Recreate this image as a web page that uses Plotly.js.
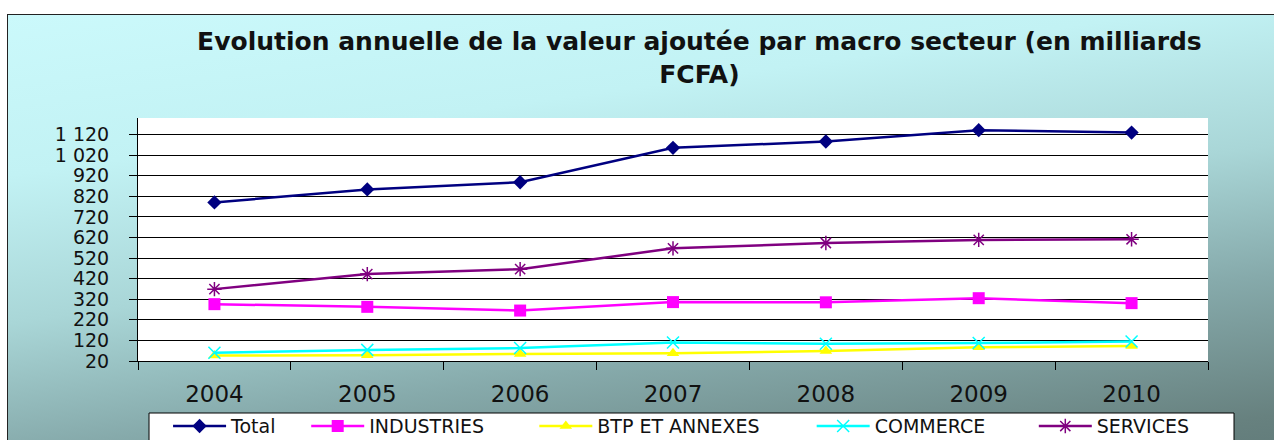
<!DOCTYPE html>
<html>
<head>
<meta charset="utf-8">
<script src="https://cdn.plot.ly/plotly-3.0.1.min.js"></script>
<style>
  html, body { margin: 0; padding: 0; background: #ffffff; width: 1274px; height: 440px; overflow: hidden; }
  #frame {
    position: absolute; left: 7px; top: 14px; width: 1300px; height: 460px;
    border-top: 1px solid #222; border-left: 1px solid #222;
    background: linear-gradient(172deg, #cbf9fb 0%, #c2f2f4 25%, #a9d6d7 48%, #86aaab 68%, #67817f 90%, #5e7877 100%);
  }
  #chart { position: absolute; left: 0; top: 0; width: 1274px; height: 440px; }
</style>
</head>
<body>
<div id="frame"></div>
<div id="chart"></div>
<script>
const years = ['2004', '2005', '2006', '2007', '2008', '2009', '2010'];
const total = [790, 853, 888, 1055, 1086, 1141, 1129];
const industries = [296, 283, 265, 306, 305, 325, 301];
const btp = [47, 48, 54, 58, 68, 87, 93];
const commerce = [60, 74, 83, 110, 104, 107, 115];
const services = [369, 442, 466, 567, 593, 608, 611];
const seriesNames = ['Total', 'INDUSTRIES', 'BTP ET ANNEXES', 'COMMERCE', 'SERVICES'];

const FONT = 'DejaVu Sans, Verdana, sans-serif';

function tr(name, y, color, symbol, size, open, legendId) {
  return {
    type: 'scatter', mode: 'lines+markers', name: name, x: years, y: y,
    legend: legendId,
    line: { color: color, width: 2.5 },
    marker: open
      ? { symbol: symbol, size: size, color: color, line: { color: color, width: 1.5 } }
      : { symbol: symbol, size: size, color: color, line: { width: 0 } }
  };
}

const data = [
  tr(seriesNames[0], total, '#000080', 'diamond', 11, false, 'legend'),
  tr(seriesNames[1], industries, '#ff00ff', 'square', 12, false, 'legend2'),
  tr(seriesNames[2], btp, '#ffff00', 'triangle-up', 11, false, 'legend3'),
  tr(seriesNames[3], commerce, '#00ffff', 'x-thin-open', 12, true, 'legend4'),
  tr(seriesNames[4], services, '#800080', 'asterisk-open', 12, true, 'legend5')
];

function leg(x) {
  return {
    orientation: 'h',
    x: x, xanchor: 'left',
    y: -0.19, yanchor: 'top',
    bgcolor: 'rgba(0,0,0,0)', borderwidth: 0,
    font: { family: FONT, size: 19, color: '#111' },
    itemwidth: 53
  };
}

const layout = {
  width: 1274, height: 440,
  paper_bgcolor: 'rgba(0,0,0,0)',
  plot_bgcolor: '#ffffff',
  separators: ', ',
  margin: { l: 138, r: 66, t: 118, b: 79, autoexpand: false },
  font: { family: FONT, color: '#111' },
  title: {
    text: '<b>Evolution annuelle de la valeur ajoutée par macro secteur (en milliards<br>FCFA)</b>',
    font: { family: FONT, size: 25, color: '#111' },
    x: 0.549, xanchor: 'center', xref: 'container',
    y: 0.886, yanchor: 'top', yref: 'container'
  },
  xaxis: {
    type: 'category',
    range: [-0.5, 6.5],
    tickson: 'boundaries',
    ticks: 'outside', ticklen: 8, tickcolor: '#000', tickwidth: 1,
    showline: true, linecolor: '#000', linewidth: 1,
    showgrid: false, zeroline: false,
    tickfont: { family: FONT, size: 23, color: '#111' },
    ticklabelstandoff: 12
  },
  yaxis: {
    range: [20, 1200],
    tick0: 20, dtick: 100, tickmode: 'linear',
    tickformat: ',d',
    ticks: 'outside', ticklen: 8, tickcolor: '#000', tickwidth: 1,
    showline: true, linecolor: '#000', linewidth: 1,
    showgrid: true, gridcolor: '#000', gridwidth: 1,
    zeroline: false,
    tickfont: { family: FONT, size: 19, color: '#111' },
    ticklabelstandoff: 16
  },
  showlegend: true,
  legend: leg(0.0281),
  legend2: leg(0.1572),
  legend3: leg(0.3704),
  legend4: leg(0.6296),
  legend5: leg(0.8372),
  shapes: [{
    type: 'rect', xref: 'paper', yref: 'paper',
    x0: 0.0103, x1: 1.0243, y0: -0.214, y1: -0.42,
    fillcolor: '#ffffff', line: { color: '#000', width: 1 }, layer: 'below'
  }]
};

Plotly.newPlot('chart', data, layout, { displayModeBar: false, staticPlot: true });
</script>
</body>
</html>
